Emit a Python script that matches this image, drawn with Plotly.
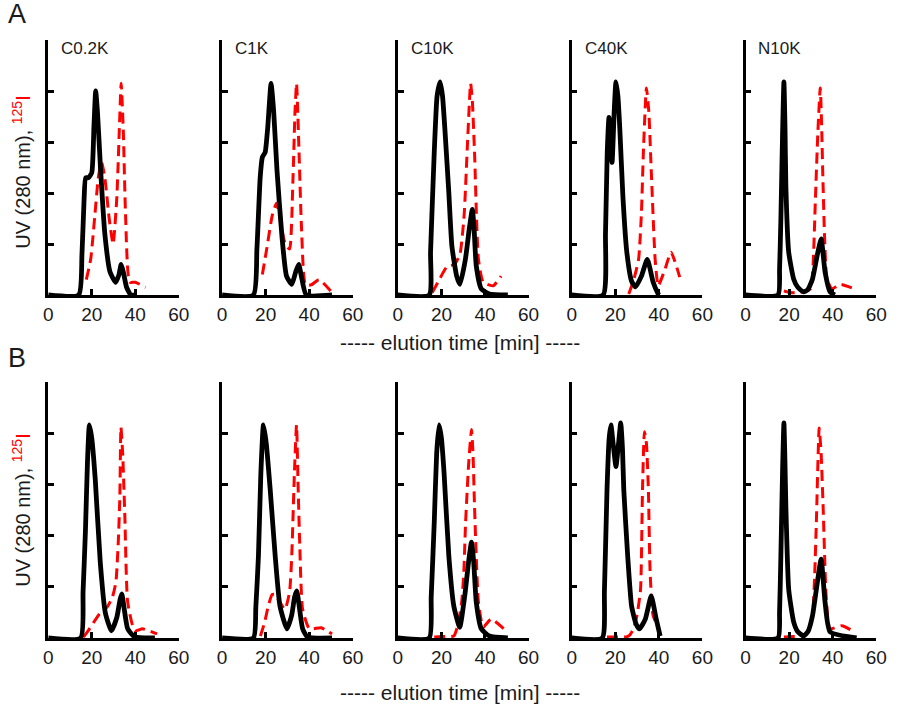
import plotly.graph_objects as go

# ---------------- data (elution time [min], signal in tick units) ----------------
PANEL_TITLES = ["C0.2K", "C1K", "C10K", "C40K", "N10K"]
ROW_LABELS = ["A", "B"]
X_TICKS = [0, 20, 40, 60]
Y_TICKS = [1, 2, 3, 4, 5]

# Row A
A1_UV_T = [0, 14, 15.5, 16.5, 17.2, 18.5, 20, 21, 21.8, 22.6, 24, 26, 28.4, 31, 32.5, 33.5, 34.5, 36, 38, 40]
A1_UV = [0, 0, 0.8, 1.9, 2.3, 2.3, 2.4, 3.3, 4.0, 3.6, 2.5, 1.2, 0.45, 0.25, 0.4, 0.6, 0.45, 0.15, 0, 0]
A1_I_T = [17.5, 19.5, 21.5, 23, 24.5, 26, 28, 29.8, 31.5, 32.7, 33.5, 34.5, 35.5, 37.4, 40, 44.7]
A1_I = [0.3, 0.7, 1.6, 2.3, 2.6, 2.3, 1.5, 1.0, 1.9, 3.3, 4.15, 3.2, 1.6, 0.25, 0.25, 0.15]

A2_UV_T = [0, 14.4, 16, 17.5, 18.5, 19.8, 21, 22.5, 23.7, 25.2, 27.5, 29.6, 32, 33.8, 35.2, 36.5, 38.7, 50.5]
A2_UV = [0, 0, 0.9, 2.3, 2.7, 2.8, 3.3, 4.15, 3.6, 2.46, 1.15, 0.37, 0.21, 0.45, 0.6, 0.35, 0, 0]
A2_I_T = [18.5, 20.5, 23, 25, 27, 29, 31, 32.5, 33.5, 34.2, 35.2, 36.5, 38.3, 41, 44.5, 50.5]
A2_I = [0.4, 0.9, 1.55, 1.8, 1.4, 1.0, 0.9, 2.2, 3.6, 4.15, 3.0, 1.3, 0.2, 0.2, 0.3, 0.05]

A3_UV_T = [0, 14.4, 15, 16.7, 18, 19.4, 20.5, 21.6, 23.4, 24.8, 27, 28.5, 31, 32.8, 34.2, 35, 36, 38.3, 42, 50.5]
A3_UV = [0, 0, 0.84, 2.8, 3.9, 4.18, 3.9, 3.24, 2.0, 0.96, 0.37, 0.21, 0.7, 1.3, 1.68, 1.3, 0.57, 0.12, 0.02, 0]
A3_I_T = [15.8, 19, 22.6, 26, 28.5, 30.4, 32, 33.4, 34.2, 35.2, 37, 39.2, 43.7, 47.4]
A3_I = [0.05, 0.3, 0.56, 0.6, 0.8, 1.55, 3.0, 4.15, 3.8, 2.8, 0.7, 0.25, 0.18, 0.37]

A4_UV_T = [0, 14.4, 15.5, 16.3, 17.1, 18.5, 19.5, 20.3, 21.2, 22.1, 23.5, 25.3, 27.5, 29.3, 32, 34.7, 37.4, 39.7, 40]
A4_UV = [0, 0, 1.2, 2.8, 3.48, 2.6, 3.6, 4.18, 3.9, 3.24, 1.93, 0.84, 0.27, 0.16, 0.37, 0.7, 0.25, 0.02, 0]
A4_I_T = [26.2, 28.5, 30.7, 32, 32.9, 34.3, 35.4, 36.5, 38.3, 39.7, 42.8, 45.6, 49.6]
A4_I = [0.02, 0.3, 0.7, 1.6, 2.8, 4.06, 3.6, 2.46, 0.7, 0.18, 0.5, 0.84, 0.35]

A5_UV_T = [0, 14.9, 15.6, 16.2, 17, 17.6, 18.1, 18.5, 19.8, 22.1, 24, 26.6, 28.5, 30.7, 33, 34.7, 36.5, 38.8, 41]
A5_UV = [0, 0, 0.5, 1.48, 3.2, 4.18, 3.3, 2.13, 0.84, 0.31, 0.15, 0.06, 0.1, 0.31, 0.8, 1.1, 0.45, 0.06, 0]
A5_I_T = [17.6, 20, 25, 29.8, 31, 32, 33.2, 34.3, 35, 35.6, 37.4, 39.7, 43.3, 50]
A5_I = [0.08, 0.05, 0.05, 0.12, 0.6, 1.8, 3.2, 4.06, 3.2, 2.13, 0.31, 0.12, 0.21, 0.12]

# Row B
B1_UV_T = [0, 14.9, 16, 17.1, 18, 18.9, 20, 21.6, 23.9, 26.2, 29, 31.5, 33, 33.8, 34.8, 36.5, 39.7, 49]
B1_UV = [0, 0, 0.9, 2.1, 3.4, 4.16, 3.9, 3.1, 1.48, 0.5, 0.14, 0.4, 0.75, 0.86, 0.6, 0.18, 0.02, 0]
B1_I_T = [16.2, 18.5, 20.8, 24, 27, 29.5, 31.1, 32.2, 32.9, 33.4, 34.2, 35.2, 36.5, 39.7, 43.3, 50]
B1_I = [0.02, 0.15, 0.3, 0.5, 0.6, 0.8, 1.1, 1.9, 2.77, 4.12, 3.6, 2.37, 0.7, 0.14, 0.18, 0.08]

B2_UV_T = [0, 14.4, 15.5, 16.7, 17.8, 19, 20.3, 22.1, 24.4, 26.6, 29.8, 32, 33.3, 34.3, 35.5, 37, 39.2, 50.5]
B2_UV = [0, 0, 0.6, 1.6, 3.2, 4.16, 3.8, 2.9, 1.6, 0.62, 0.18, 0.45, 0.8, 0.92, 0.6, 0.18, 0.02, 0]
B2_I_T = [17.6, 19.5, 21.2, 23, 24.4, 26.5, 28.9, 31, 32, 33.2, 34.2, 34.9, 35.6, 37, 40.1, 45.5, 50.5]
B2_I = [0.04, 0.3, 0.62, 0.85, 0.85, 0.7, 0.56, 0.9, 1.6, 3.2, 4.16, 3.0, 1.93, 0.56, 0.18, 0.2, 0.08]

B3_UV_T = [0, 14.4, 15.3, 16.7, 17.8, 18.9, 20, 21.2, 23.4, 25.7, 28.4, 30.7, 32.5, 33.8, 34.8, 36, 38.3, 42, 50.5]
B3_UV = [0, 0, 0.8, 2.26, 3.6, 4.16, 3.9, 3.23, 1.6, 0.62, 0.21, 0.82, 1.5, 1.87, 1.5, 0.7, 0.18, 0.04, 0]
B3_I_T = [16.7, 20, 25.7, 27.5, 29.3, 30.3, 31.1, 32.5, 33.8, 34.5, 35.2, 37, 39.2, 42.8, 48.7]
B3_I = [0.02, 0.03, 0.04, 0.25, 0.7, 1.3, 2.26, 3.4, 4.07, 3.6, 2.57, 0.7, 0.21, 0.37, 0.18]

B4_UV_T = [0, 14, 15, 16.2, 17.2, 18, 19, 20.3, 21.5, 22.5, 23.3, 23.9, 25.7, 27.5, 29.5, 31.1, 33.8, 36.5, 38.8, 40.6]
B4_UV = [0, 0, 0.9, 2.9, 3.9, 4.16, 3.8, 3.35, 3.8, 4.2, 3.7, 2.9, 1.6, 0.62, 0.28, 0.18, 0.37, 0.82, 0.37, 0.04]
B4_I_T = [16.2, 20, 24.8, 26.5, 28.4, 30, 31.6, 32.5, 33.4, 34.3, 35.2, 36, 37.4, 40.1]
B4_I = [0.02, 0.02, 0.02, 0.05, 0.18, 0.45, 0.95, 2.9, 4.03, 3.8, 2.9, 1.28, 0.43, 0.18]

B5_UV_T = [0, 14.9, 15.6, 16.2, 17, 17.6, 18.1, 18.5, 19.8, 22.1, 24, 26.6, 28.6, 30.7, 33, 34.7, 36.5, 38.8, 51]
B5_UV = [0, 0, 0.5, 1.6, 3.3, 4.2, 3.4, 2.57, 0.95, 0.31, 0.12, 0.04, 0.12, 0.43, 1.1, 1.54, 0.7, 0.12, 0]
B5_I_T = [17.6, 22, 26.6, 28.8, 30.7, 31.7, 32.5, 33.8, 34.7, 35.6, 37, 38.8, 44.2, 50]
B5_I = [0.02, 0.03, 0.04, 0.15, 0.43, 1.2, 2.26, 4.1, 3.6, 2.57, 0.82, 0.18, 0.24, 0.12]

PANELS = [
    [(A1_UV_T, A1_UV, A1_I_T, A1_I), (A2_UV_T, A2_UV, A2_I_T, A2_I), (A3_UV_T, A3_UV, A3_I_T, A3_I),
     (A4_UV_T, A4_UV, A4_I_T, A4_I), (A5_UV_T, A5_UV, A5_I_T, A5_I)],
    [(B1_UV_T, B1_UV, B1_I_T, B1_I), (B2_UV_T, B2_UV, B2_I_T, B2_I), (B3_UV_T, B3_UV, B3_I_T, B3_I),
     (B4_UV_T, B4_UV, B4_I_T, B4_I), (B5_UV_T, B5_UV, B5_I_T, B5_I)],
]

# ---------------- layout geometry (pixels) ----------------
W, H = 900, 720
COL_LEFT = [44, 221, 400, 577, 754]
COL_W = 133
ROW_TOP = [40, 382]
ROW_BOTTOM = [295, 638]
FONT = "Liberation Sans, Arial, sans-serif"
TXT = "#1a1a1a"

def px_x(p):
    return p / W

def px_y(p):
    return 1 - p / H

fig = go.Figure()
layout = dict(
    width=W, height=H, autosize=False,
    margin=dict(l=0, r=0, t=0, b=0),
    paper_bgcolor="white", plot_bgcolor="rgba(0,0,0,0)",
    showlegend=False,
    font=dict(family=FONT, color=TXT),
)
annotations = []

for r in range(2):
    for c in range(5):
        n = r * 5 + c + 1
        xa = "xaxis" if n == 1 else f"xaxis{n}"
        ya = "yaxis" if n == 1 else f"yaxis{n}"
        xr = "x" if n == 1 else f"x{n}"
        yr = "y" if n == 1 else f"y{n}"
        uv_t, uv, i_t, iv = PANELS[r][c]
        fig.add_trace(go.Scatter(
            x=i_t, y=iv, xaxis=xr, yaxis=yr, mode="lines",
            line=dict(color="#ff0000", width=3, dash="11px,6px", shape="spline", smoothing=0.5),
            hoverinfo="skip"))
        fig.add_trace(go.Scatter(
            x=uv_t, y=uv, xaxis=xr, yaxis=yr, mode="lines",
            line=dict(color="black", width=4.8, shape="spline", smoothing=0.5),
            hoverinfo="skip"))
        layout[xa] = dict(
            domain=[px_x(COL_LEFT[c]), px_x(COL_LEFT[c] + COL_W)],
            anchor=yr, range=[0, 60], tickvals=X_TICKS, ticktext=[str(v) for v in X_TICKS],
            ticks="inside", ticklen=6, tickwidth=2.5, tickcolor="black",
            showline=True, linecolor="black", linewidth=2.5,
            showgrid=False, zeroline=False,
            tickfont=dict(size=19, family=FONT, color=TXT), fixedrange=True,
        )
        layout[ya] = dict(
            domain=[px_y(ROW_BOTTOM[r]), px_y(ROW_TOP[r])],
            anchor=xr, range=[0, 5], tickvals=Y_TICKS, showticklabels=False,
            ticks="inside", ticklen=6, tickwidth=2.5, tickcolor="black",
            showline=True, linecolor="black", linewidth=2.5,
            showgrid=False, zeroline=False, fixedrange=True,
        )
        if r == 0:
            annotations.append(dict(
                text=PANEL_TITLES[c], xref="paper", yref="paper",
                x=px_x(COL_LEFT[c] + 11), y=px_y(ROW_TOP[r] + 9),
                xanchor="left", yanchor="middle", showarrow=False,
                font=dict(size=17, family=FONT, color=TXT)))
    # row letter
    annotations.append(dict(
        text=ROW_LABELS[r], xref="paper", yref="paper",
        x=px_x(12), y=px_y(14 if r == 0 else 358),
        xanchor="center", yanchor="middle", showarrow=False,
        font=dict(size=27, family=FONT, color=TXT)))
    # y label
    annotations.append(dict(
        text="UV (280 nm), <span style='color:#ff0000'><sup>125</sup>I</span>",
        xref="paper", yref="paper", x=px_x(16), y=px_y(172 if r == 0 else 510),
        xanchor="center", yanchor="middle", textangle=-90, showarrow=False,
        font=dict(size=20, family=FONT, color=TXT)))
    # x label
    annotations.append(dict(
        text="----- elution time [min] -----", xref="paper", yref="paper",
        x=px_x(463), y=px_y(342 if r == 0 else 692),
        xanchor="center", yanchor="middle", showarrow=False,
        font=dict(size=21, family=FONT, color=TXT)))

layout["annotations"] = annotations
fig.update_layout(**layout)
fig.write_html("out.html", config={"displayModeBar": False},
               post_script="document.body.style.margin='0';")
